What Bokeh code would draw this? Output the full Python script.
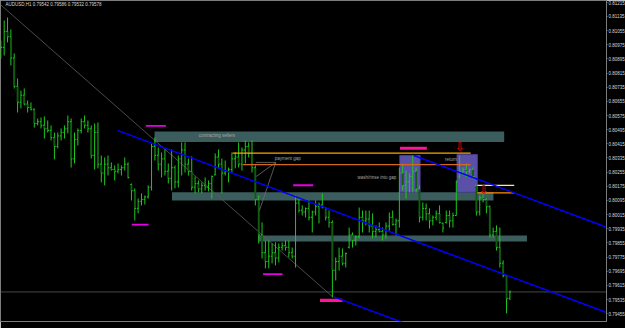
from bokeh.plotting import figure
from bokeh.models import Range1d, FixedTicker, PrintfTickFormatter, Label
from bokeh.embed import file_html
from bokeh.resources import INLINE
from bokeh.core.properties import value

# ---------------- data (AUDUSD, H1) ----------------
highs = [
    0.80999, 0.81112, 0.81129, 0.81061, 0.80926, 0.80784, 0.80716, 0.80728, 0.80660, 0.80649,
    0.80615, 0.80558, 0.80564, 0.80570, 0.80547, 0.80519, 0.80479, 0.80479, 0.80502, 0.80519,
    0.80575, 0.80558, 0.80479, 0.80502, 0.80558, 0.80575, 0.80547, 0.80519, 0.80530, 0.80536,
    0.80349, 0.80338, 0.80349, 0.80310, 0.80293, 0.80304, 0.80293, 0.80338, 0.80310, 0.80191,
    0.80163, 0.80106, 0.80135, 0.80123, 0.80180, 0.80417, 0.80451, 0.80394, 0.80366, 0.80383,
    0.80304, 0.80383, 0.80293, 0.80349, 0.80423, 0.80423, 0.80332, 0.80344, 0.80231, 0.80208,
    0.80197, 0.80225, 0.80208, 0.80236, 0.80361, 0.80383, 0.80332, 0.80321, 0.80281, 0.80366,
    0.80366, 0.80423, 0.80394, 0.80434, 0.80423, 0.80434, 0.80293, 0.80123, 0.79971, 0.79869,
    0.79869, 0.79852, 0.79858, 0.79852, 0.79858, 0.79869, 0.79869, 0.79829, 0.80123, 0.80112,
    0.80067, 0.80055, 0.80095, 0.80038, 0.80095, 0.80084, 0.80135, 0.80055, 0.80038, 0.79982,
    0.79773, 0.79829, 0.79824, 0.79801, 0.79942, 0.79914, 0.79897, 0.80055, 0.80038, 0.80038,
    0.80038, 0.80022, 0.79954, 0.79971, 0.79942, 0.79971, 0.80027, 0.80038, 0.79993, 0.80281,
    0.80304, 0.80264, 0.80248, 0.80349, 0.80281, 0.80180, 0.80084, 0.80078, 0.80050, 0.80010,
    0.80038, 0.80067, 0.79971, 0.80038, 0.80038, 0.80027, 0.80208, 0.80349, 0.80281, 0.80304,
    0.80276, 0.80281, 0.80180, 0.80123, 0.80140, 0.80106, 0.80067, 0.79942, 0.79954, 0.79942,
    0.79756, 0.79671, 0.79586,
]
lows = [
    0.80897, 0.80914, 0.80988, 0.80858, 0.80728, 0.80592, 0.80615, 0.80632, 0.80592, 0.80603,
    0.80507, 0.80519, 0.80502, 0.80445, 0.80479, 0.80434, 0.80327, 0.80389, 0.80434, 0.80445,
    0.80474, 0.80281, 0.80304, 0.80406, 0.80474, 0.80502, 0.80479, 0.80332, 0.80270, 0.80276,
    0.80197, 0.80180, 0.80236, 0.80264, 0.80208, 0.80248, 0.80236, 0.80264, 0.80219, 0.80095,
    0.79982, 0.80022, 0.80067, 0.80072, 0.80106, 0.80151, 0.80321, 0.80264, 0.80225, 0.80236,
    0.80191, 0.80151, 0.80163, 0.80168, 0.80236, 0.80253, 0.80236, 0.80151, 0.80135, 0.80140,
    0.80135, 0.80151, 0.80146, 0.80106, 0.80236, 0.80276, 0.80135, 0.80236, 0.80197, 0.80253,
    0.80276, 0.80281, 0.80264, 0.80304, 0.80338, 0.80253, 0.80067, 0.79852, 0.79767, 0.79711,
    0.79711, 0.79739, 0.79728, 0.79745, 0.79812, 0.79812, 0.79773, 0.79767, 0.79716, 0.80027,
    0.80010, 0.79999, 0.79982, 0.79914, 0.80010, 0.79965, 0.80050, 0.79982, 0.79942, 0.79547,
    0.79643, 0.79699, 0.79728, 0.79716, 0.79824, 0.79829, 0.79841, 0.79880, 0.79914, 0.79954,
    0.79914, 0.79880, 0.79886, 0.79914, 0.79869, 0.79880, 0.79925, 0.79954, 0.79897, 0.79942,
    0.80151, 0.80106, 0.80140, 0.80140, 0.80140, 0.79971, 0.79982, 0.79982, 0.79937, 0.79954,
    0.79982, 0.79965, 0.79914, 0.79965, 0.79942, 0.79942, 0.80010, 0.80219, 0.80236, 0.80225,
    0.80248, 0.80219, 0.80010, 0.80010, 0.80084, 0.80022, 0.79886, 0.79886, 0.79812, 0.79716,
    0.79660, 0.79457, 0.79532,
]
opens = [
    0.80920, 0.80960, 0.81050, 0.81020, 0.80900, 0.80740, 0.80650, 0.80690, 0.80640, 0.80620,
    0.80610, 0.80530, 0.80540, 0.80520, 0.80500, 0.80490, 0.80450, 0.80400, 0.80460, 0.80480,
    0.80500, 0.80540, 0.80330, 0.80440, 0.80490, 0.80540, 0.80520, 0.80500, 0.80350, 0.80480,
    0.80300, 0.80250, 0.80300, 0.80280, 0.80270, 0.80260, 0.80270, 0.80280, 0.80300, 0.80185,
    0.80150, 0.80050, 0.80090, 0.80100, 0.80115, 0.80170, 0.80400, 0.80350, 0.80300, 0.80330,
    0.80260, 0.80220, 0.80280, 0.80200, 0.80330, 0.80380, 0.80300, 0.80260, 0.80170, 0.80190,
    0.80160, 0.80180, 0.80170, 0.80190, 0.80240, 0.80340, 0.80300, 0.80250, 0.80260, 0.80270,
    0.80330, 0.80340, 0.80300, 0.80380, 0.80400, 0.80360, 0.80280, 0.80100, 0.79900, 0.79800,
    0.79750, 0.79780, 0.79800, 0.79770, 0.79830, 0.79840, 0.79830, 0.79800, 0.79780, 0.80080,
    0.80040, 0.80030, 0.80050, 0.80000, 0.80030, 0.80060, 0.80070, 0.80055, 0.80000, 0.79970,
    0.79700, 0.79750, 0.79780, 0.79740, 0.79830, 0.79900, 0.79870, 0.79890, 0.80000, 0.79980,
    0.79990, 0.79950, 0.79920, 0.79930, 0.79920, 0.79900, 0.79950, 0.80000, 0.79960, 0.79980,
    0.80250, 0.80180, 0.80200, 0.80230, 0.80260, 0.80160, 0.80000, 0.80050, 0.80020, 0.79980,
    0.80000, 0.80020, 0.79965, 0.79970, 0.80010, 0.79980, 0.80010, 0.80230, 0.80260, 0.80270,
    0.80260, 0.80270, 0.80180, 0.80030, 0.80110, 0.80100, 0.80060, 0.79900, 0.79920, 0.79830,
    0.79740, 0.79670, 0.79542,
]
closes = [
    0.80960, 0.81050, 0.81020, 0.80900, 0.80740, 0.80650, 0.80690, 0.80640, 0.80620, 0.80610,
    0.80530, 0.80540, 0.80520, 0.80500, 0.80490, 0.80450, 0.80400, 0.80460, 0.80480, 0.80500,
    0.80540, 0.80330, 0.80440, 0.80490, 0.80540, 0.80520, 0.80500, 0.80350, 0.80480, 0.80300,
    0.80250, 0.80300, 0.80280, 0.80270, 0.80260, 0.80270, 0.80280, 0.80300, 0.80225, 0.80150,
    0.80050, 0.80090, 0.80100, 0.80115, 0.80170, 0.80400, 0.80350, 0.80300, 0.80330, 0.80260,
    0.80220, 0.80280, 0.80200, 0.80330, 0.80380, 0.80300, 0.80260, 0.80170, 0.80190, 0.80160,
    0.80180, 0.80170, 0.80190, 0.80230, 0.80340, 0.80300, 0.80250, 0.80260, 0.80270, 0.80330,
    0.80340, 0.80300, 0.80380, 0.80400, 0.80360, 0.80280, 0.80100, 0.79900, 0.79800, 0.79750,
    0.79780, 0.79800, 0.79770, 0.79830, 0.79840, 0.79830, 0.79800, 0.79780, 0.80080, 0.80040,
    0.80030, 0.80050, 0.80000, 0.80030, 0.80060, 0.80070, 0.80055, 0.80000, 0.79970, 0.79700,
    0.79750, 0.79780, 0.79740, 0.79795, 0.79900, 0.79870, 0.79890, 0.80000, 0.79980, 0.79990,
    0.79950, 0.79920, 0.79930, 0.79920, 0.79900, 0.79950, 0.80000, 0.79960, 0.79980, 0.80250,
    0.80180, 0.80200, 0.80230, 0.80260, 0.80160, 0.80000, 0.80050, 0.80020, 0.79980, 0.80000,
    0.80020, 0.79970, 0.79940, 0.80010, 0.79980, 0.80010, 0.80200, 0.80260, 0.80270, 0.80260,
    0.80270, 0.80230, 0.80030, 0.80110, 0.80100, 0.80060, 0.79900, 0.79920, 0.79830, 0.79740,
    0.79670, 0.79540, 0.79578,
]

time_bars = [0, 8, 16, 24, 32, 40, 48, 56, 64, 72, 80, 88, 96, 104, 112, 120, 128, 136, 144, 152]
time_labels = ["8 Sep 2017", "8 Sep 20:00", "11 Sep 04:00", "11 Sep 12:00", "11 Sep 20:00",
               "12 Sep 04:00", "12 Sep 12:00", "12 Sep 20:00", "13 Sep 04:00", "13 Sep 12:00",
               "13 Sep 20:00", "14 Sep 04:00", "14 Sep 12:00", "14 Sep 20:00", "15 Sep 04:00",
               "15 Sep 12:00", "15 Sep 20:00", "18 Sep 04:00", "18 Sep 12:00", "18 Sep 20:00"]
price_ticks = [0.81215, 0.81135, 0.81055, 0.80975, 0.80895, 0.80815, 0.80735, 0.80655,
               0.80575, 0.80495, 0.80415, 0.80335, 0.80255, 0.80175, 0.80095, 0.80015,
               0.79935, 0.79855, 0.79775, 0.79695, 0.79615, 0.79535, 0.79455]

# drawing objects (bar index, price)
zone_left = [45.9, 51.1, 77.0]
zone_right = [150.3, 147.1, 157.1]
zone_top = [0.80485, 0.80142, 0.79897]
zone_bottom = [0.80426, 0.80095, 0.79863]

box_left = [119.1, 136.2]
box_right = [125.2, 142.3]
box_top = [0.80349, 0.80355]
box_bottom = [0.80142, 0.80142]

level_x0 = [69.2, 72.2, 142.3, 142.3]
level_x1 = [140.3, 140.3, 153.3, 153.3]
level_price = [0.80363, 0.80297, 0.80180, 0.80138]

mark_x0 = [43.3, 39.1, 87.3, 78.3]
mark_x1 = [49.3, 44.1, 93.3, 84.1]
mark_price = [0.80517, 0.79958, 0.80181, 0.79679]

pink_x0 = [95.3, 119.2]
pink_x1 = [102.0, 127.2]
pink_price = [0.79530, 0.80390]

chan_x0 = [34.8, 123.3, 99.4]
chan_x1 = [180.9, 180.9, 180.9]
chan_p0 = [0.80491, 0.80349, 0.79550]
chan_p1 = [0.79462, 0.79944, 0.78979]

trend_x = [0.0, 99.1]
trend_p = [0.81200, 0.79550]

note_x0 = [76.1, 82.1, 82.1]
note_x1 = [82.1, 76.3, 77.2]
note_p0 = [0.80310, 0.80310, 0.80310]
note_p1 = [0.80310, 0.80231, 0.80038]

text_x = [64.5, 81.8, 106.5, 132.6]
text_p = [0.80461, 0.80331, 0.80227, 0.80325]
text_s = ["contracting sellers", "payment gap", "wash/rinse into gap", "return"]
text_align = ["center", "left", "left", "left"]

arrow_x = [137.1, 144.3]
arrow_p = [0.80396, 0.80155]

# ---------------- figure ----------------
n = len(highs)
bars = list(range(n))

p = figure(frame_width=606, frame_height=321,
           x_range=Range1d(-0.1, 180.85), y_range=Range1d(0.79411, 0.81225),
           output_backend="svg", toolbar_location=None,
           x_axis_location=None, y_axis_location="right",
           background_fill_color="black", border_fill_color="black",
           min_border=0, min_border_left=0, min_border_top=0, min_border_right=0,
           min_border_bottom=7)
p.grid.visible = False
p.outline_line_color = "#7c7c7c"

ax = p.yaxis[0]
ax.ticker = FixedTicker(ticks=price_ticks)
ax.formatter = PrintfTickFormatter(format="%.5f")
ax.axis_line_color = "#7c7c7c"
ax.major_tick_line_color = "#7c7c7c"
ax.major_tick_out = 1
ax.major_tick_in = 0
ax.minor_tick_out = 0
ax.minor_tick_in = 0
ax.major_label_standoff = 1
ax.major_label_text_color = "#d8d8d8"
ax.major_label_text_font = "Liberation Sans"
ax.major_label_text_font_size = "4.5px"

# zones
p.quad(left=zone_left, right=zone_right, top=zone_top, bottom=zone_bottom,
       fill_color="#3b5d5d", line_color=None)
p.quad(left=box_left, right=box_right, top=box_top, bottom=box_bottom,
       fill_color="#5a50a8", line_color="#4a4090", line_width=0.8)

# gray trendline and bid line
p.line(x=trend_x, y=trend_p, line_color="#5e5e5e", line_width=0.8)
p.line(x=[-0.1, 180.85], y=[closes[-1], closes[-1]], line_color="#5a5a5a", line_width=0.8)

# candles
bear = [i for i in bars if closes[i] < opens[i]]
p.segment(x0=bars, y0=lows, x1=bars, y1=highs, line_color="#1ec81e", line_width=1)
p.vbar(x=bear, width=0.55, top=[opens[i] for i in bear], bottom=[closes[i] for i in bear],
       fill_color="#0f5c0f", line_color=None)
p.segment(x0=[i - 0.38 for i in bars], y0=opens, x1=bars, y1=opens,
          line_color="#1ec81e", line_width=1)
p.segment(x0=bars, y0=closes, x1=[i + 0.38 for i in bars], y1=closes,
          line_color="#1ec81e", line_width=1)

# note connector lines
p.segment(x0=note_x0, y0=note_p0, x1=note_x1, y1=note_p1, line_color="#6e6e6e", line_width=0.8)

# horizontal levels
p.segment(x0=level_x0, y0=level_price, x1=level_x1, y1=level_price,
          line_color=["#ffa500", "#d2691e", "#ffe0b0", "#ff8c00"], line_width=1.2)
p.segment(x0=mark_x0, y0=mark_price, x1=mark_x1, y1=mark_price,
          line_color="#e600e6", line_width=1.8)
p.segment(x0=pink_x0, y0=pink_price, x1=pink_x1, y1=pink_price,
          line_color="#ff1493", line_width=3.2)

# channel lines
p.segment(x0=chan_x0, y0=chan_p0, x1=chan_x1, y1=chan_p1, line_color="#0000ff", line_width=1.5)

# texts
p.text(x=text_x, y=text_p, text=text_s, text_align=text_align, text_baseline="middle",
       text_color="#a6a6a6", text_font=value("Liberation Sans"), text_font_size="4.5px")
p.text(x=arrow_x, y=arrow_p, text=["\u21e9", "\u21e9"], text_align="center",
       text_baseline="middle", text_color="#d00000", text_font=value("DejaVu Sans"),
       text_font_size="12px", text_font_style="bold")

# header
header = "AUDUSD,H1  %.5f %.5f %.5f %.5f" % (opens[-1], highs[-1], lows[-1], closes[-1])
p.add_layout(Label(x=5, y=317, x_units="screen", y_units="screen", text=header,
                   text_color="#d8d8d8", text_font="Liberation Sans", text_font_size="4.5px",
                   text_baseline="middle"))

# time labels
for b, t in zip(time_bars, time_labels):
    p.add_layout(Label(x=b + 0.3, y=-1, x_units="data", y_units="screen", text=t,
                       text_align="left", text_baseline="top", text_color="#d8d8d8",
                       text_font="Liberation Sans", text_font_size="4.5px"))

# bid price box on the axis
p.add_layout(Label(x=607, y=closes[-1], x_units="screen", y_units="data",
                   text="%.5f" % closes[-1], text_align="left", text_baseline="middle",
                   text_color="black", background_fill_color="white",
                   text_font="Liberation Sans", text_font_size="4.5px"))

open("out.html", "w").write(file_html(p, INLINE))
